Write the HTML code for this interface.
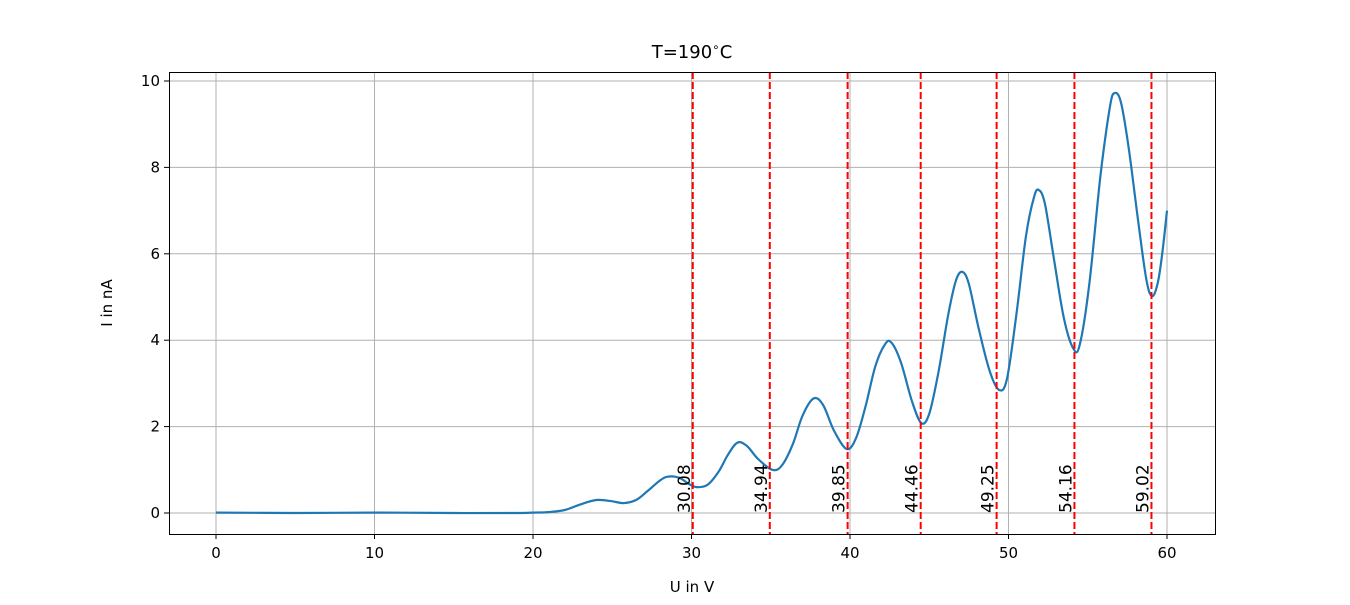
<!DOCTYPE html>
<html><head><meta charset="utf-8"><style>
body{margin:0;background:#fff;}
svg text{font-family:"DejaVu Sans","Liberation Sans",sans-serif;}
</style></head><body>
<svg id="chart" width="1350" height="600" xmlns="http://www.w3.org/2000/svg">
<rect width="1350" height="600" fill="#fff"/>
<g id="grid"></g>
<g id="marks"></g>
<rect x="169.5" y="72.5" width="1046" height="462" fill="none" stroke="#000" stroke-width="1"/>
<g id="ticks"></g>
<text x="692" y="58" font-size="18" text-anchor="middle">T=190<tspan font-size="12" dy="-7">∘</tspan><tspan dy="7">C</tspan></text>
<text x="692" y="592" font-size="15" text-anchor="middle">U in V</text>
<text transform="translate(112,303) rotate(-90)" font-size="15" text-anchor="middle">I in nA</text>
</svg>
<script>
const xTicks=[0,10,20,30,40,50,60];
const yTicks=[0,2,4,6,8,10];
const minima=[30.08,34.94,39.85,44.46,49.25,54.16,59.02];
const volts=[0,5,10,15,19,20,21,22,23,24,25,25.7,26.5,27.2,28,28.5,29.2,29.8,30.3,31,31.7,32.3,32.9,33.5,34.2,35.1,35.7,36.4,37,37.7,38.3,39,39.8,40.4,41,41.6,42.2,42.6,43.2,43.9,44.5,45,45.6,46.2,46.7,47.1,47.5,48.1,48.8,49.4,49.9,50.5,51.1,51.6,51.9,52.3,52.9,53.5,54.1,54.5,55.1,55.8,56.4,56.7,57.1,57.6,58.2,58.7,59.05,59.4,59.7,60];
const current=[0.01,0,0.01,0,0,0.01,0.02,0.07,0.2,0.3,0.27,0.23,0.3,0.5,0.75,0.84,0.82,0.68,0.6,0.65,0.95,1.35,1.63,1.55,1.25,1.0,1.1,1.6,2.25,2.65,2.5,1.9,1.48,1.75,2.5,3.4,3.9,3.95,3.5,2.6,2.08,2.3,3.3,4.6,5.4,5.58,5.3,4.3,3.3,2.85,3.1,4.6,6.4,7.3,7.48,7.15,5.8,4.5,3.8,3.9,5.3,7.8,9.4,9.72,9.5,8.4,6.7,5.4,5.02,5.3,6.0,7.0];
const NS="http://www.w3.org/2000/svg";
const X=v=>216+v*(1167-216)/60;
const Y=v=>513-v*(513-81)/10;
function mk(tag,attrs,parent){const e=document.createElementNS(NS,tag);for(const k in attrs)e.setAttribute(k,attrs[k]);parent.appendChild(e);return e;}
const grid=document.getElementById('grid'),ticks=document.getElementById('ticks'),marks=document.getElementById('marks');
xTicks.forEach(t=>{
 const g=mk('line',{x1:X(t),x2:X(t),y1:72,y2:534,stroke:'#b0b0b0','stroke-width':1},grid);
 
 
 const tk=mk('line',{x1:X(t),x2:X(t),y1:534,y2:539,stroke:'#000'},ticks);
 
 
 const tx=mk('text',{x:X(t),y:558,'font-size':15,'text-anchor':'middle'},ticks);tx.textContent=t;
 
 
});
yTicks.forEach(t=>{
 const g=mk('line',{x1:169,x2:1215,y1:Y(t),y2:Y(t),stroke:'#b0b0b0','stroke-width':1},grid);
 
 
 const tk=mk('line',{x1:164,x2:169,y1:Y(t),y2:Y(t),stroke:'#000'},ticks);
 
 
 const tx=mk('text',{x:160,y:Y(t)+5,'font-size':15,'text-anchor':'end'},ticks);tx.textContent=t;
 
 
});
const P=volts.map((v,i)=>[X(v),Y(current[i])]);
let d='M'+P[0][0].toFixed(1)+','+P[0][1].toFixed(1);
for(let i=0;i<P.length-1;i++){
 const p0=P[Math.max(0,i-1)],p1=P[i],p2=P[i+1],p3=P[Math.min(P.length-1,i+2)];
 const c1=[p1[0]+(p2[0]-p0[0])/6,p1[1]+(p2[1]-p0[1])/6];
 const c2=[p2[0]-(p3[0]-p1[0])/6,p2[1]-(p3[1]-p1[1])/6];
 d+=` C${c1[0].toFixed(1)},${c1[1].toFixed(1)} ${c2[0].toFixed(1)},${c2[1].toFixed(1)} ${p2[0].toFixed(1)},${p2[1].toFixed(1)}`;
}
const line=mk('path',{d:d,fill:'none',stroke:'#1f77b4','stroke-width':2.2,'stroke-linejoin':'round'},marks);


minima.forEach(m=>{
 const l=mk('line',{x1:X(m),x2:X(m),y1:72,y2:534,stroke:'#ff0000','stroke-width':2,'stroke-dasharray':'7,3'},marks);
 
 
 const t=mk('text',{transform:`translate(${X(m)-3},${Y(0)}) rotate(-90)`,'font-size':17,'text-anchor':'start'},marks);
 t.textContent=m.toFixed(2);
 
 
});
</script>
</body></html>
